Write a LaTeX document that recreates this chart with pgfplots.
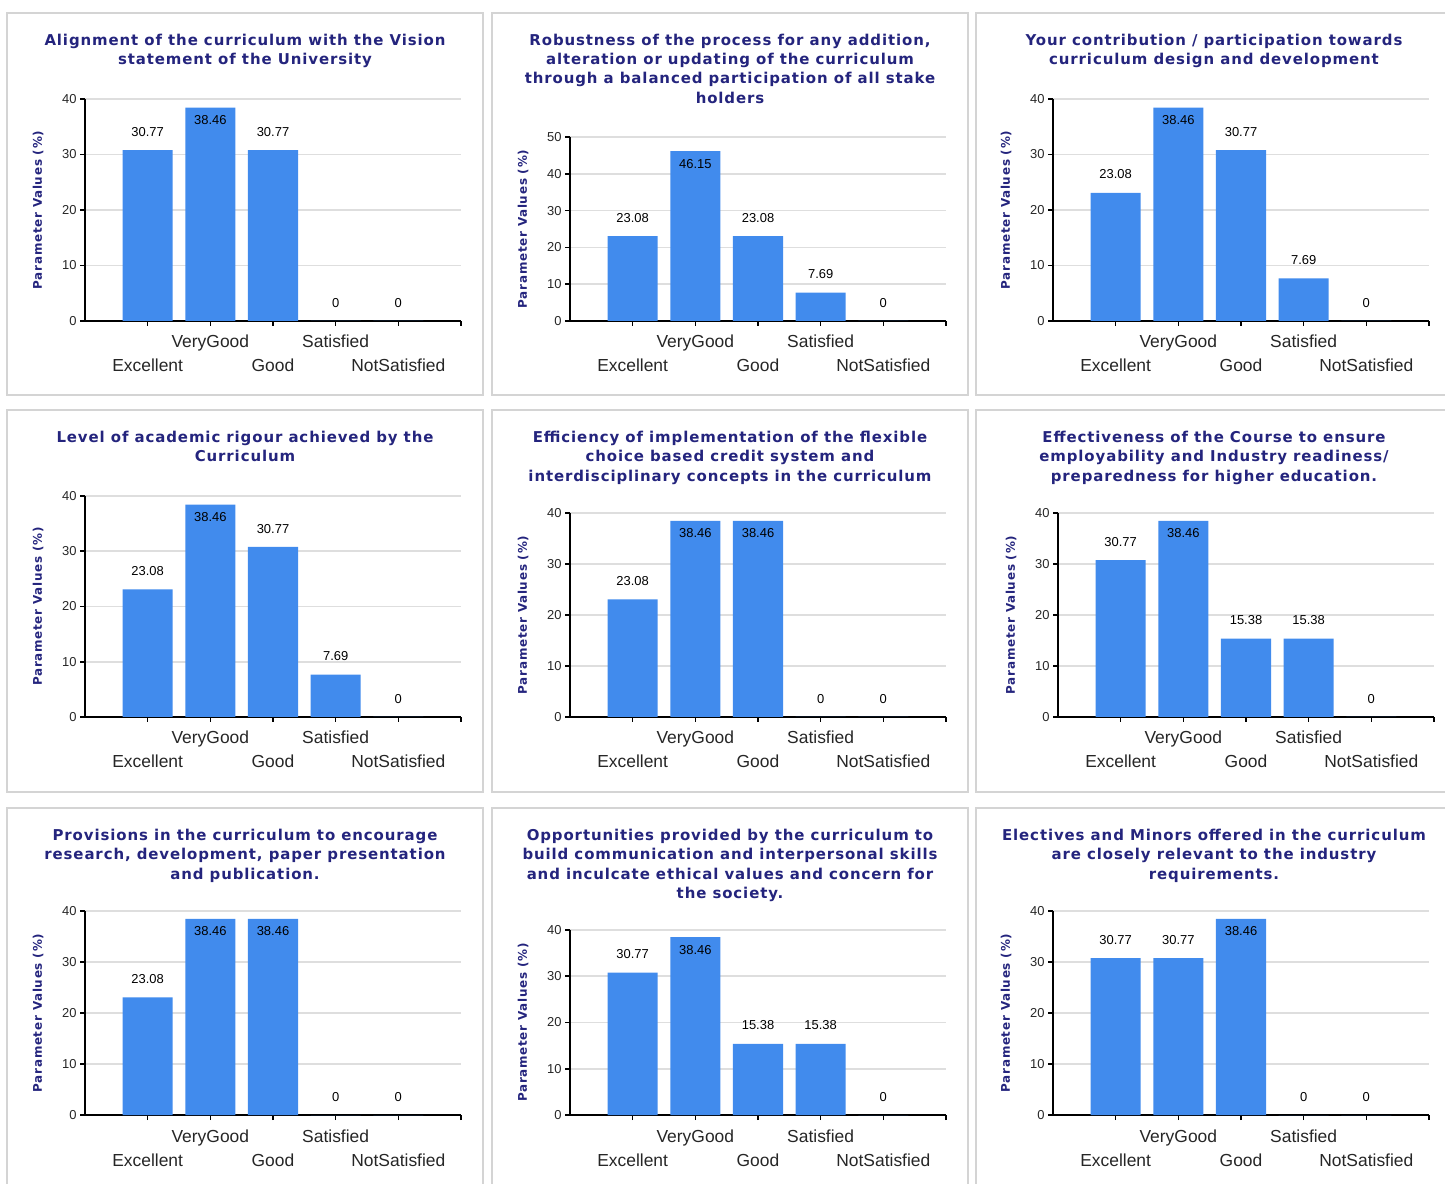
\documentclass[border=0pt]{standalone}
\usepackage{fontspec}
\setmainfont{Liberation Sans}
\newfontfamily\titlefont{DejaVu Sans}[LetterSpace=6.0]
\usepackage{pgfplots}
\pgfplotsset{compat=1.18}
\usepackage{pgfplotstable}

\definecolor{barblue}{RGB}{65,139,237}
\definecolor{navy}{RGB}{36,36,125}
\definecolor{gridgray}{RGB}{222,222,222}
\definecolor{boxgray}{RGB}{212,212,212}

% x: 0 Excellent, 1 VeryGood, 2 Good, 3 Satisfied, 4 NotSatisfied
% in = 1 : value label drawn inside the top of the bar
\pgfplotstableread{
x y in
0 30.77 0
1 38.46 1
2 30.77 0
3 0 0
4 0 0
}\tA
\pgfplotstableread{
x y in
0 23.08 0
1 46.15 1
2 23.08 0
3 7.69 0
4 0 0
}\tB
\pgfplotstableread{
x y in
0 23.08 0
1 38.46 1
2 30.77 0
3 7.69 0
4 0 0
}\tC
\pgfplotstableread{
x y in
0 23.08 0
1 38.46 1
2 30.77 0
3 7.69 0
4 0 0
}\tD
\pgfplotstableread{
x y in
0 23.08 0
1 38.46 1
2 38.46 1
3 0 0
4 0 0
}\tE
\pgfplotstableread{
x y in
0 30.77 0
1 38.46 1
2 15.38 0
3 15.38 0
4 0 0
}\tF
\pgfplotstableread{
x y in
0 23.08 0
1 38.46 1
2 38.46 1
3 0 0
4 0 0
}\tG
\pgfplotstableread{
x y in
0 30.77 0
1 38.46 1
2 15.38 0
3 15.38 0
4 0 0
}\tH
\pgfplotstableread{
x y in
0 30.77 0
1 30.77 0
2 38.46 1
3 0 0
4 0 0
}\tI

\pgfplotsset{
  panel/.style={
    scale only axis, width=376bp, anchor=south west,
    xmin=-1, xmax=5, ymin=0, enlargelimits=false, clip=false,
    axis lines=left, axis line style={-, line width=1.8bp, black},
    tick align=outside, major tick length=5bp,
    major tick style={line width=1.6bp, black},
    ymajorgrids, grid style={line width=1.6bp, gridgray},
    /pgf/number format/assume math mode=true,
    yticklabel style={font=\fontsize{13}{15}\selectfont, text=black!85},
    xtick={0,2,4,5}, xticklabels={Excellent,Good,NotSatisfied,{}},
    extra x ticks={1,3}, extra x tick labels={VeryGood,Satisfied},
    xticklabel style={font=\fontsize{17.5}{20}\selectfont, text=black!85, anchor=base, yshift=-46bp},
    extra x tick style={xticklabel style={yshift=24bp}},
    ylabel={Parameter Values (\%)},
    ylabel style={at={(axis description cs:-0.125,0.5)}, anchor=center,
      font=\titlefont\bfseries\fontsize{12}{14}\selectfont, text=navy},
  },
  bars/.style={ybar, bar width=0.8, fill=barblue, draw=none,
    nodes near coords,
    visualization depends on={\thisrow{in} \as \inside},
    nodes near coords style={font=\fontsize{13}{15}\selectfont, text=black,
      anchor=base, yshift={14-31*\inside}}},
}

\newcommand{\panel}[5]{%
  \begin{axis}[panel, at={(#1bp,#2bp)}, height=#3bp, ymax=#4, ytick={0,10,...,#4}]
    \addplot[bars] table[x=x, y=y] {#5};
  \end{axis}}

\tikzset{ttl/.style={anchor=north, inner sep=0pt, align=center, text=navy,
  font=\titlefont\bfseries\fontsize{15}{19.3}\selectfont}}

\begin{document}
\begin{tikzpicture}
\useasboundingbox (0,0) rectangle (1445bp,1184bp);
% panel frames
\foreach \xa/\xb in {7/483, 492/968, 976/1452}{
  \foreach \ya/\yb in {1171/789, 774/392, 376/-6}{
    \draw[boxgray, line width=2.5bp] (\xa bp,\ya bp) rectangle (\xb bp,\yb bp);
  }
}
\panel{85}{863}{222}{40}{\tA}
\panel{570}{863}{184}{50}{\tB}
\panel{1053}{863}{222}{40}{\tC}
\panel{85}{467}{221}{40}{\tD}
\panel{570}{467}{204}{40}{\tE}
\panel{1058}{467}{204}{40}{\tF}
\panel{85}{69}{204}{40}{\tG}
\panel{570}{69}{185}{40}{\tH}
\panel{1053}{69}{204}{40}{\tI}

\node[ttl] at (245bp,1150bp) {Alignment of the curriculum with the Vision\\statement of the University};
\node[ttl] at (730bp,1150bp) {Robustness of the process for any addition,\\alteration or updating of the curriculum\\through a balanced participation of all stake\\holders};
\node[ttl] at (1214bp,1150bp) {Your contribution / participation towards\\curriculum design and development};
\node[ttl] at (245bp,753bp) {Level of academic rigour achieved by the\\Curriculum};
\node[ttl] at (730bp,753bp) {Efficiency of implementation of the flexible\\choice based credit system and\\interdisciplinary concepts in the curriculum};
\node[ttl] at (1214bp,753bp) {Effectiveness of the Course to ensure\\employability and Industry readiness/\\preparedness for higher education.};
\node[ttl] at (245bp,355bp) {Provisions in the curriculum to encourage\\research, development, paper presentation\\and publication.};
\node[ttl] at (730bp,355bp) {Opportunities provided by the curriculum to\\build communication and interpersonal skills\\and inculcate ethical values and concern for\\the society.};
\node[ttl] at (1214bp,355bp) {Electives and Minors offered in the curriculum\\are closely relevant to the industry\\requirements.};
\end{tikzpicture}
\end{document}
